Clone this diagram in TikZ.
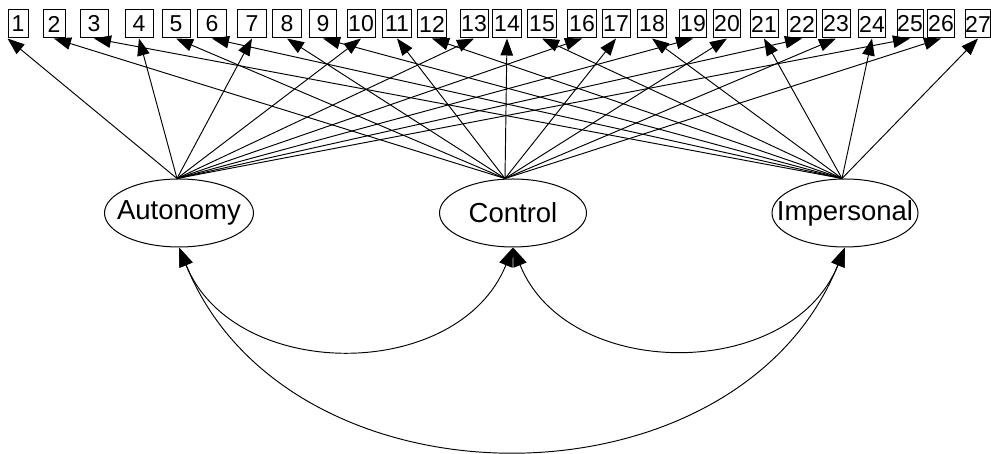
\documentclass[tikz,border=0pt]{standalone}
\usepackage{fontspec}
\setmainfont{Liberation Sans}
\usetikzlibrary{arrows.meta,shapes.geometric}
\begin{document}
\begin{tikzpicture}[x=1pt,y=1pt,
  item/.style={draw, line width=1pt, rectangle, inner sep=0pt, minimum height=28pt, font=\fontsize{23}{25}\selectfont},
  latent/.style={draw, line width=1pt, ellipse, inner sep=0pt, minimum height=68pt},
  lname/.style={font=\fontsize{27.5}{30}\selectfont, inner sep=0pt},
  load/.style={line width=0.95pt, -{Triangle[length=17pt,width=12.5pt]}},
  cov/.style={line width=0.95pt, {Triangle[length=19pt,width=14pt]}-{Triangle[length=19pt,width=14pt]}}]
\useasboundingbox (0,0) rectangle (991,454);
% latent variables
\node[latent, minimum width=149pt] (A) at (179,241) {};
\node[lname] (At) at (A.center) {Autonomy};
\node[latent, minimum width=147pt] (C) at (513,241) {};
\node[lname] (Ct) at (C.center) {Control};
\node[latent, minimum width=146pt] (I) at (845,241) {};
\node[lname] (It) at (I.center) {Impersonal};
\coordinate (Atop) at ([xshift=-2pt]A.north);
\coordinate (Ctop) at ([xshift=-8pt]C.north);
\coordinate (Itop) at ([xshift=-3pt]I.north);
% items
\foreach \n/\x/\w in {1/18/20, 2/54/22, 3/94/28, 4/139/28, 5/176/28, 6/212/29, 7/252/29,
  8/287/29, 9/323/27, 10/361/28, 11/397/29, 12/432/29, 13/474/28, 14/507/29, 15/542/29,
  16/582/29, 17/616/28, 18/652/29, 19/693/27, 20/727/27, 21/764/28, 22/802/29, 23/836/28,
  24/872/27, 25/910/26, 26/941/27, 27/978/25}
  \node[item, minimum width=\w pt] (b\n) at (\x,430) {\n};
% loadings
\draw[load] (Atop) -- (b1.south west);
\foreach \n in {4,7,10,13,16,19,22,25}
  \draw[load] (Atop) -- (b\n.south);
\foreach \n in {2,5,8,11,14,17,20,23,26}
  \draw[load] (Ctop) -- (b\n.south);
\foreach \n in {3,6,9,12,15,18,21,24,27}
  \draw[load] (Itop) -- (b\n.south);
% covariances
\draw[cov] (A.south) to[out=-68,in=-112,looseness=1.12] (C.south);
\draw[cov] (C.south) to[out=-68,in=-112,looseness=1.12] (I.south);
\draw[cov] (A.south) to[out=-68,in=-112,looseness=1.115] (I.south);
\end{tikzpicture}
\end{document}
